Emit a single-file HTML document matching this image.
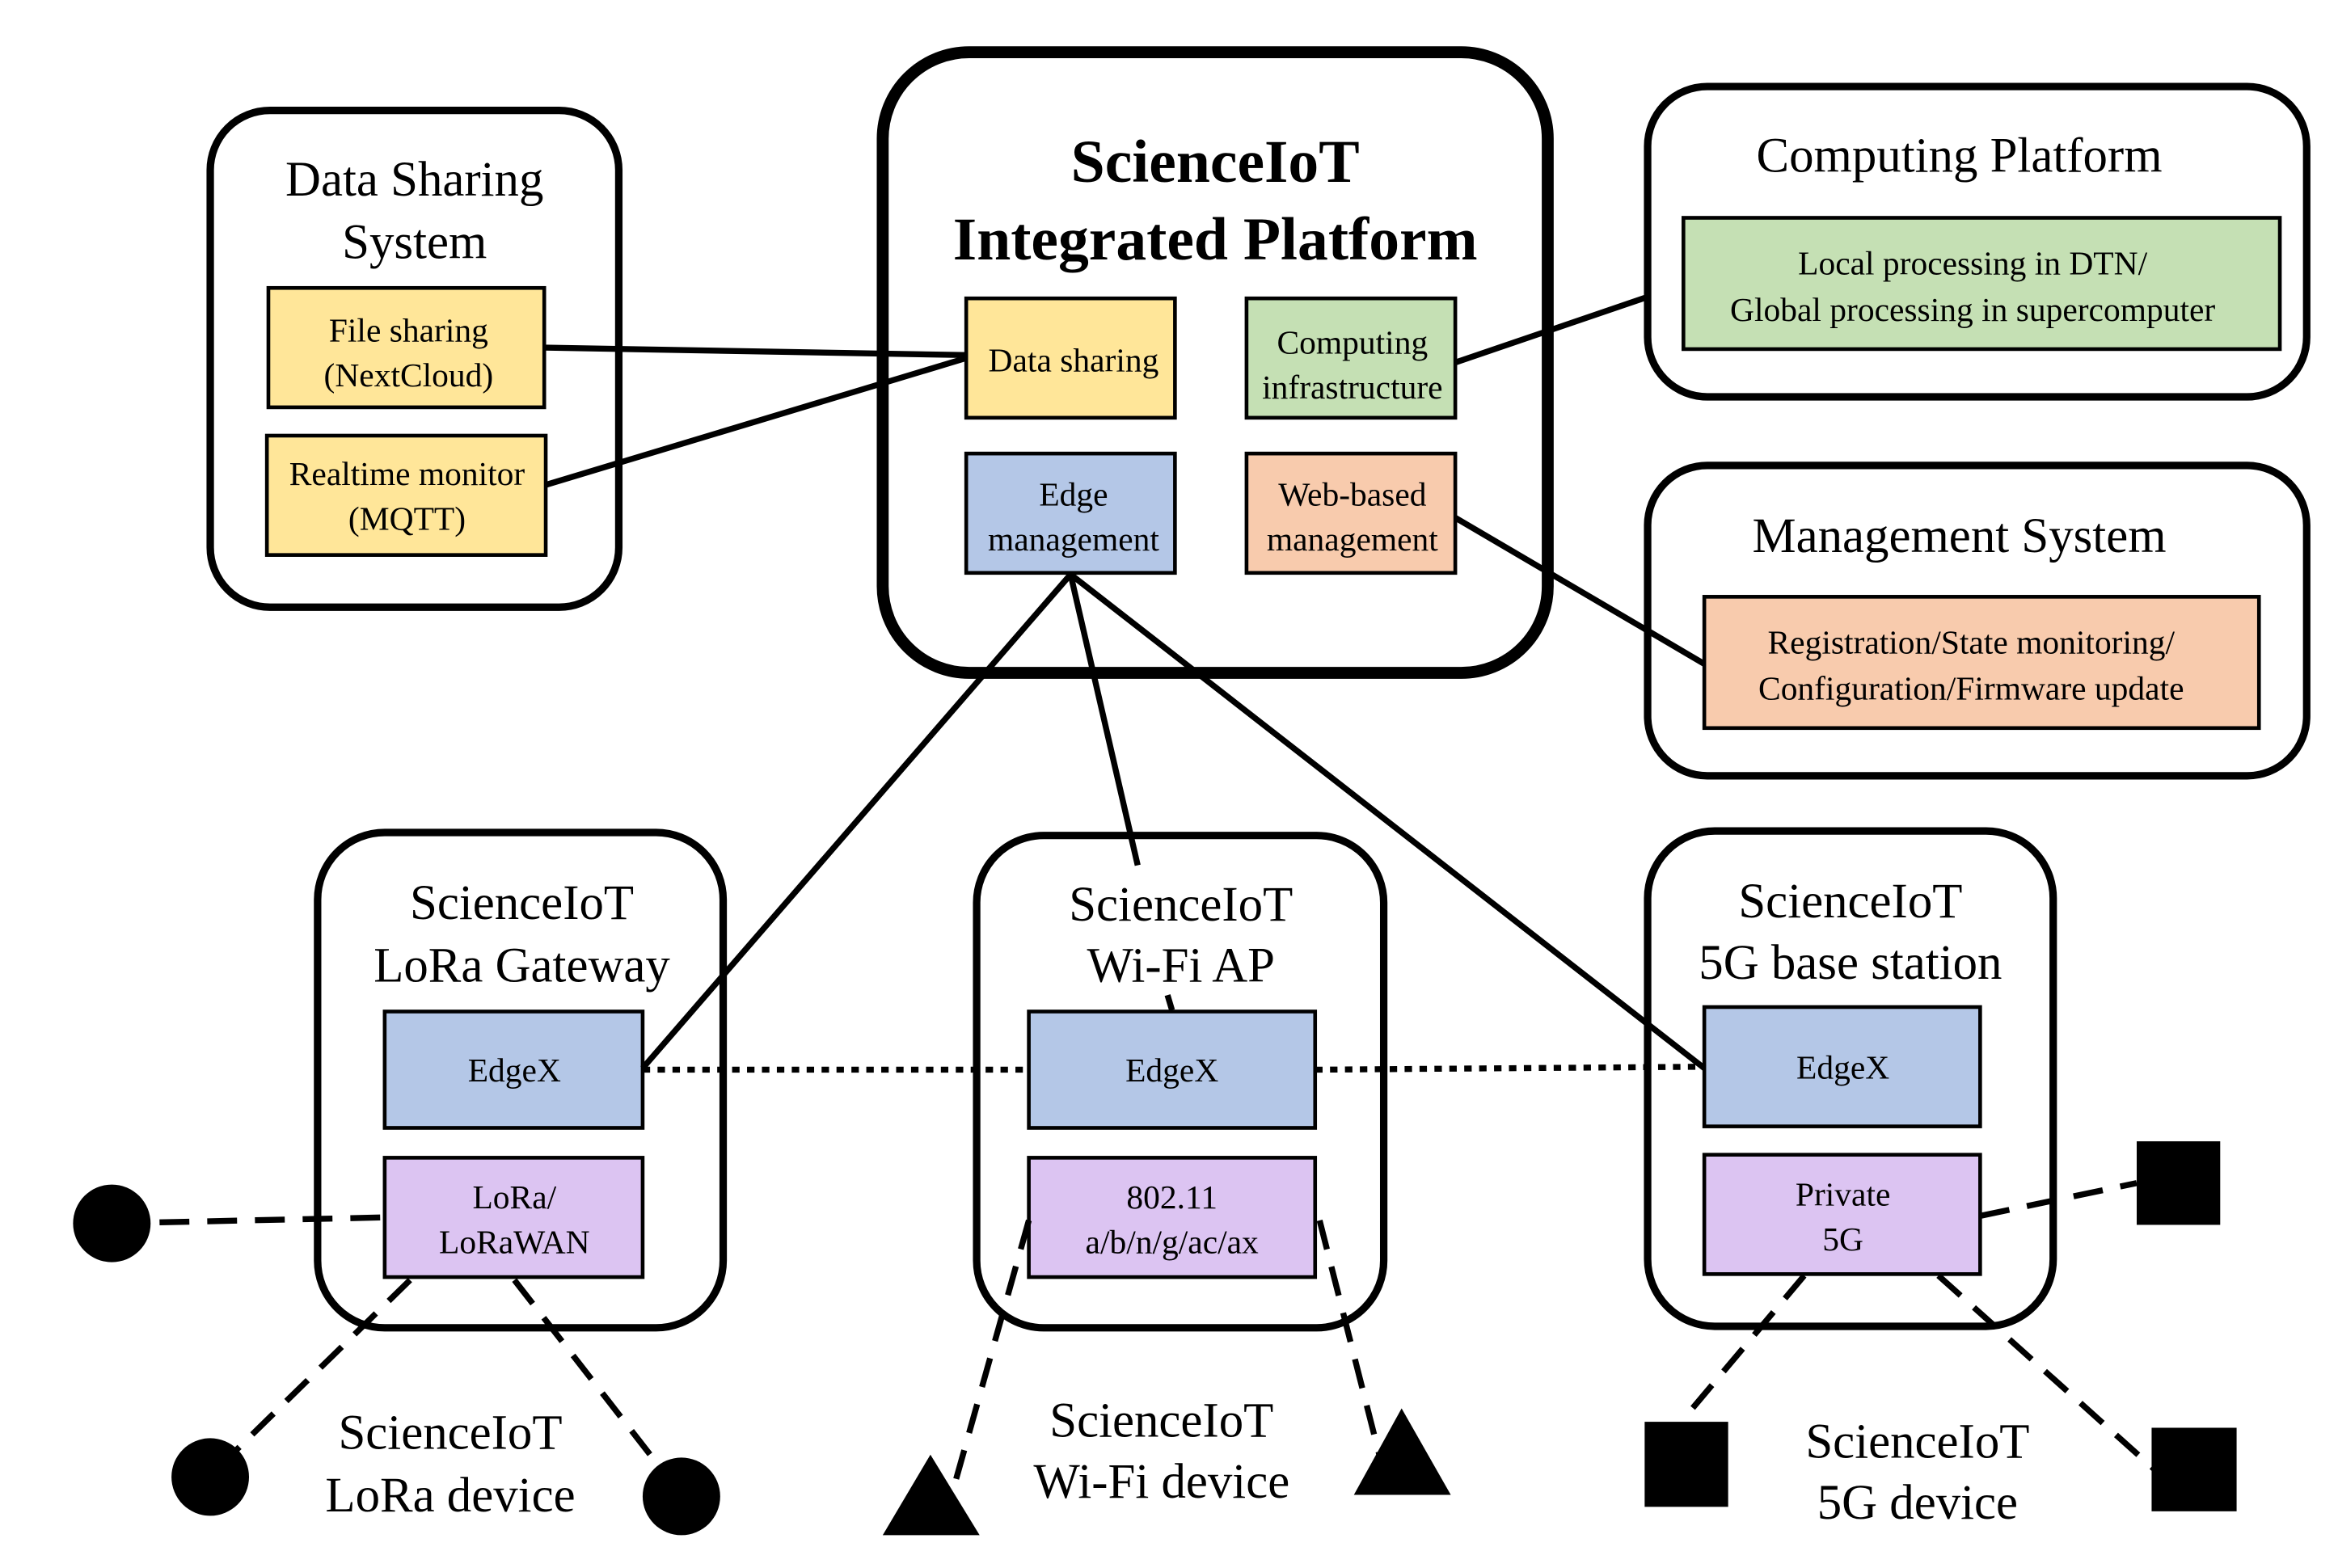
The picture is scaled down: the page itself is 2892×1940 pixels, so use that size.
<!DOCTYPE html>
<html><head><meta charset="utf-8"><style>
html,body{margin:0;padding:0;background:#fff;}
svg{display:block;}
text{font-family:"Liberation Serif",serif;fill:#000;text-anchor:middle;}
.t{font-size:33px;}
.s{font-size:22.5px;}
</style></head><body>
<svg width="2892" height="1940" viewBox="0 0 1568 1051" preserveAspectRatio="none" xmlns="http://www.w3.org/2000/svg">
<g fill="none" stroke="#000" stroke-width="5">
<rect x="141" y="74" width="274" height="333" rx="40"/>
<rect x="592" y="35" width="446" height="416" rx="58" stroke-width="8"/>
<rect x="1105" y="58" width="442" height="208" rx="40"/>
<rect x="1105" y="312" width="442" height="208" rx="40"/>
<rect x="213" y="558" width="272" height="332" rx="45"/>
<rect x="655" y="560" width="273" height="330" rx="45"/>
<rect x="1105" y="557" width="272" height="332" rx="45"/>
</g>
<g stroke="#000" stroke-width="2.5">
<rect x="180" y="193" width="185" height="80" fill="#ffe699"/>
<rect x="179" y="292" width="187" height="80" fill="#ffe699"/>
<rect x="648" y="200" width="140" height="80" fill="#ffe699"/>
<rect x="836" y="200" width="140" height="80" fill="#c5e0b4"/>
<rect x="648" y="304" width="140" height="80" fill="#b4c7e7"/>
<rect x="836" y="304" width="140" height="80" fill="#f8cbad"/>
<rect x="1129" y="146" width="400" height="88" fill="#c5e0b4"/>
<rect x="1143" y="400" width="372" height="88" fill="#f8cbad"/>
<rect x="258" y="678" width="173" height="78" fill="#b4c7e7"/>
<rect x="258" y="776" width="173" height="80" fill="#dcc4f2"/>
<rect x="690" y="678" width="192" height="78" fill="#b4c7e7"/>
<rect x="690" y="776" width="192" height="80" fill="#dcc4f2"/>
<rect x="1143" y="675" width="185" height="80" fill="#b4c7e7"/>
<rect x="1143" y="774" width="185" height="80" fill="#dcc4f2"/>
</g>
<g stroke="#000" stroke-width="4" fill="none">
<line x1="365" y1="233" x2="648" y2="238"/>
<line x1="366" y1="325" x2="648" y2="240"/>
<line x1="976" y1="243" x2="1105" y2="199"/>
<line x1="976" y1="347" x2="1143" y2="445"/>
<line x1="718" y1="385" x2="431" y2="716"/>
<line x1="718" y1="385" x2="763" y2="580"/>
<line x1="783" y1="667" x2="786" y2="677"/>
<line x1="718" y1="385" x2="1143" y2="716"/>
<g stroke-dasharray="5,5">
<line x1="431" y1="717" x2="690" y2="717"/>
<line x1="882" y1="717" x2="1143" y2="715"/>
</g>
<g stroke-dasharray="20,12">
<line x1="75" y1="820" x2="258" y2="816"/>
<line x1="275" y1="858" x2="140" y2="990"/>
<line x1="345" y1="858" x2="457" y2="1002"/>
<line x1="690" y1="818" x2="636" y2="1010"/>
<line x1="885" y1="818" x2="925" y2="975"/>
<line x1="1328" y1="815" x2="1433" y2="793"/>
<line x1="1210" y1="855" x2="1130" y2="950"/>
<line x1="1300" y1="855" x2="1445" y2="985"/>
</g>
</g>
<g fill="#000">
<circle cx="75" cy="820" r="26"/>
<circle cx="141" cy="990" r="26"/>
<circle cx="457" cy="1003" r="26"/>
<polygon points="624,975 592,1029 657,1029"/>
<polygon points="940,944 908,1002 973,1002"/>
<rect x="1433" y="765" width="56" height="56"/>
<rect x="1103" y="953" width="56" height="57"/>
<rect x="1443" y="957" width="57" height="56"/>
</g>
<text class="t" x="278" y="131">Data Sharing</text>
<text class="t" x="278" y="173">System</text>
<text x="815" y="122" style="font-size:41px;font-weight:bold">ScienceIoT</text>
<text x="815" y="174" style="font-size:41px;font-weight:bold">Integrated Platform</text>
<text class="t" x="1314" y="115">Computing Platform</text>
<text class="t" x="1314" y="370">Management System</text>
<text class="t" x="350" y="616">ScienceIoT</text>
<text class="t" x="350" y="658">LoRa Gateway</text>
<text class="t" x="792" y="617">ScienceIoT</text>
<text class="t" x="792" y="658">Wi-Fi AP</text>
<text class="t" x="1241" y="615">ScienceIoT</text>
<text class="t" x="1241" y="656">5G base station</text>
<text class="t" x="302" y="971">ScienceIoT</text>
<text class="t" x="302" y="1013">LoRa device</text>
<text class="t" x="779" y="963">ScienceIoT</text>
<text class="t" x="779" y="1004">Wi-Fi device</text>
<text class="t" x="1286" y="977">ScienceIoT</text>
<text class="t" x="1286" y="1018">5G device</text>
<text class="s" x="274" y="229">File sharing</text>
<text class="s" x="274" y="259">(NextCloud)</text>
<text class="s" x="273" y="325">Realtime monitor</text>
<text class="s" x="273" y="355">(MQTT)</text>
<text class="s" x="720" y="249">Data sharing</text>
<text class="s" x="907" y="237">Computing</text>
<text class="s" x="907" y="267">infrastructure</text>
<text class="s" x="720" y="339">Edge</text>
<text class="s" x="720" y="369">management</text>
<text class="s" x="907" y="339">Web-based</text>
<text class="s" x="907" y="369">management</text>
<text class="s" x="1323" y="184">Local processing in DTN/</text>
<text class="s" x="1323" y="215">Global processing in supercomputer</text>
<text class="s" x="1322" y="438">Registration/State monitoring/</text>
<text class="s" x="1322" y="469">Configuration/Firmware update</text>
<text class="s" x="345" y="725">EdgeX</text>
<text class="s" x="345" y="810">LoRa/</text>
<text class="s" x="345" y="840">LoRaWAN</text>
<text class="s" x="786" y="725">EdgeX</text>
<text class="s" x="786" y="810">802.11</text>
<text class="s" x="786" y="840">a/b/n/g/ac/ax</text>
<text class="s" x="1236" y="723">EdgeX</text>
<text class="s" x="1236" y="808">Private</text>
<text class="s" x="1236" y="838">5G</text>
</svg>
</body></html>
